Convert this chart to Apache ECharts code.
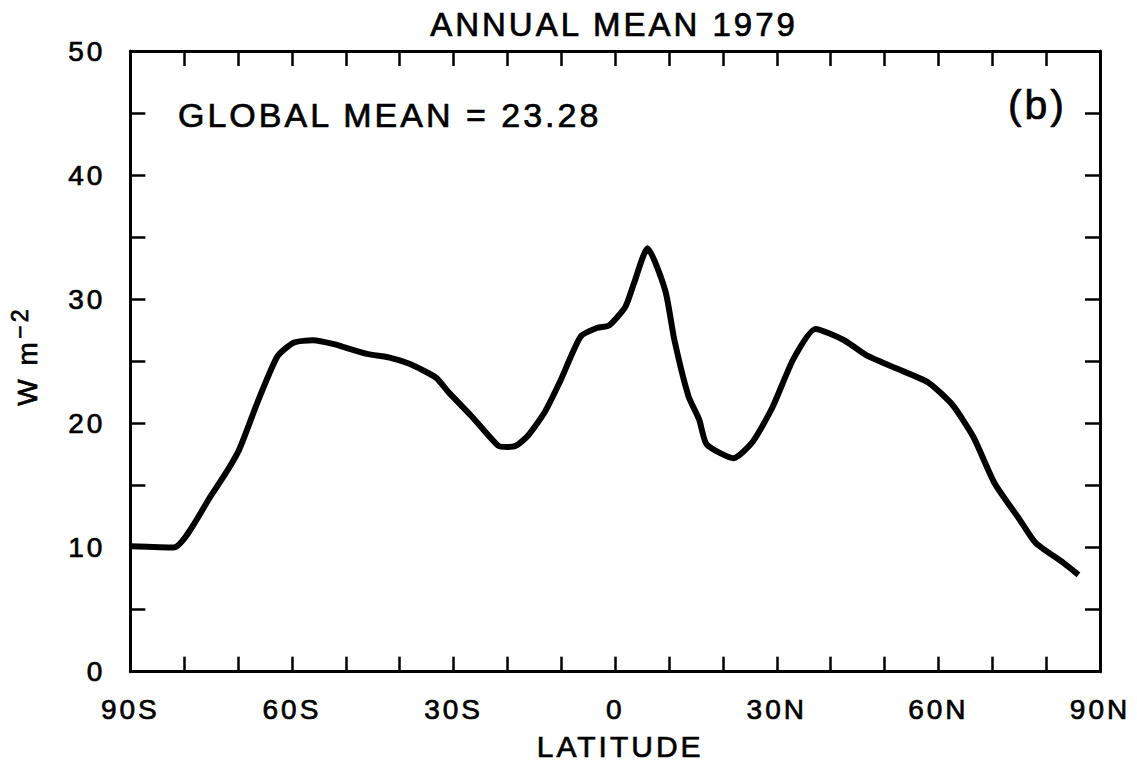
<!DOCTYPE html>
<html>
<head>
<meta charset="utf-8">
<script src="https://cdn.jsdelivr.net/npm/echarts@6/dist/echarts.min.js"></script>
<style>
  html, body { margin: 0; padding: 0; background: #fff; }
  #chart { width: 1137px; height: 767px; }
  /* wide tracking on every label, as in typeset plot lettering */
  #chart svg text { letter-spacing: 3px; }
</style>
</head>
<body>
<div id="chart"></div>
<script>
// Zonal annual mean flux, 1979, by latitude (degrees, south negative)
const latitudes = [-90, -82, -75, -70, -66.4, -62.7, -59.7, -56.1, -52.4, -46.1, -41.9, -38.2,
  -33.3, -30.9, -26.7, -21.7, -19.9, -18.4, -16.2, -13.1, -10.1, -6.4, -3.3, -1.1,
  1.9, 3.5, 6.0, 9.3, 11.0, 13.6, 15.6, 17.0, 22.0, 25.5, 29.2, 33.1, 37.2, 42.5,
  46.6, 51.8, 58.1, 62.6, 66.5, 70.4, 75.0, 78.0, 83.1, 86.0];
const fluxWm2 = [10.1, 10.0, 14.2, 17.7, 21.7, 25.4, 26.5, 26.7, 26.4, 25.6, 25.3, 24.8,
  23.7, 22.5, 20.6, 18.2, 18.1, 18.2, 19.0, 20.9, 23.5, 27.0, 27.7, 27.9,
  29.4, 31.3, 34.1, 30.7, 26.7, 22.2, 20.3, 18.3, 17.2, 18.5, 21.3, 25.2, 27.6, 26.7,
  25.5, 24.5, 23.3, 21.5, 18.9, 15.2, 12.3, 10.4, 8.8, 7.8];

// Latitude tick labels
const xTickValues = [-90, -60, -30, 0, 30, 60, 90];
const xTickLabels = ['90S', '60S', '30S', '0', '30N', '60N', '90N'];
// Flux tick labels
const yTickValues = [0, 10, 20, 30, 40, 50];
const yTickLabels = ['0', '10', '20', '30', '40', '50'];

const titleText = 'ANNUAL MEAN 1979';
const meanText = 'GLOBAL MEAN = 23.28';
const panelText = '(b)';

const FONT = 'Liberation Sans';
const chart = echarts.init(document.getElementById('chart'), null, { renderer: 'svg' });

const axisLineStyle = { show: true, onZero: false, lineStyle: { color: '#000', width: 3 } };
const tickStyle = { show: true, inside: true, length: 15, lineStyle: { color: '#000', width: 2.5 } };
// slight outline thickens the glyph strokes
const ink = { color: '#000', textBorderColor: '#000', textBorderWidth: 0.7 };

function xLabel(v) {
  const i = xTickValues.indexOf(v);
  return i >= 0 ? xTickLabels[i] : '';
}
function yLabel(v) {
  const i = yTickValues.indexOf(v);
  return i >= 0 ? yTickLabels[i] : '';
}

chart.setOption({
  animation: false,
  backgroundColor: '#fff',
  grid: { left: 128, right: 37, top: 51, bottom: 95, containLabel: false },
  xAxis: [
    {
      type: 'value', min: -90, max: 90, interval: 10, position: 'bottom',
      axisLine: axisLineStyle, axisTick: tickStyle, splitLine: { show: false },
      axisLabel: Object.assign({ formatter: xLabel, fontFamily: FONT, fontSize: 28, margin: 24, showMinLabel: true, showMaxLabel: true }, ink),
      name: 'LATITUDE', nameLocation: 'middle', nameGap: 60,
      nameTextStyle: Object.assign({ fontFamily: FONT, fontSize: 30, padding: [0, 0, 0, 10] }, ink)
    },
    {
      type: 'value', min: -90, max: 90, interval: 10, position: 'top',
      axisLine: axisLineStyle, axisTick: tickStyle, splitLine: { show: false },
      axisLabel: { show: false }
    }
  ],
  yAxis: [
    {
      type: 'value', min: 0, max: 50, interval: 5, position: 'left',
      axisLine: axisLineStyle, axisTick: tickStyle, splitLine: { show: false },
      axisLabel: Object.assign({ formatter: yLabel, fontFamily: FONT, fontSize: 28, margin: 25, showMinLabel: true, showMaxLabel: true }, ink),
      name: 'W m{s|−2}', nameLocation: 'middle', nameGap: 84, nameRotate: 90,
      nameTextStyle: Object.assign({
        fontFamily: FONT, fontSize: 28, padding: [0, 0, 0, 12],
        rich: {
          s: Object.assign({ fontFamily: FONT, fontSize: 23, verticalAlign: 'top', lineHeight: 38, padding: [0, 0, 0, 8] }, ink)
        }
      }, ink)
    },
    {
      type: 'value', min: 0, max: 50, interval: 5, position: 'right',
      axisLine: axisLineStyle, axisTick: tickStyle, splitLine: { show: false },
      axisLabel: { show: false }
    }
  ],
  graphic: [
    { type: 'text', x: 614, y: 8,
      style: { text: titleText, fill: '#000', stroke: '#000', lineWidth: 0.7, font: '33px "' + FONT + '"', align: 'center', verticalAlign: 'top' } },
    { type: 'text', x: 178, y: 98,
      style: { text: meanText, fill: '#000', stroke: '#000', lineWidth: 0.7, font: '34px "' + FONT + '"', align: 'left', verticalAlign: 'top' } },
    { type: 'text', x: 1067, y: 84,
      style: { text: panelText, fill: '#000', stroke: '#000', lineWidth: 0.7, font: '41px "' + FONT + '"', align: 'right', verticalAlign: 'top' } }
  ],
  series: [{
    type: 'line',
    xAxisIndex: 0, yAxisIndex: 0,
    data: latitudes.map((lat, i) => [lat, fluxWm2[i]]),
    showSymbol: false, symbol: 'none',
    smooth: 0.2,
    lineStyle: { color: '#000', width: 6, join: 'round', cap: 'butt' }
  }]
});
</script>
</body>
</html>
